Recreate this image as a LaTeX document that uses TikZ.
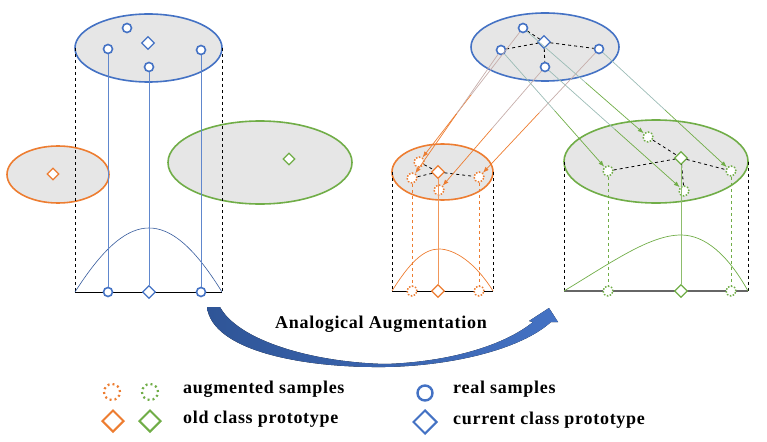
\documentclass[tikz,border=0pt]{standalone}
\usepackage{fontspec}
\setmainfont{Liberation Serif}
\newfontfamily\lblfont[LetterSpace=4]{Liberation Serif}
\usepackage{xcolor}
\usetikzlibrary{arrows.meta}
\usetikzlibrary{shapes.geometric}
\usetikzlibrary{calc}
\definecolor{myblue}{RGB}{68,114,196}
\definecolor{mydarkblue}{RGB}{47,85,151}
\definecolor{myorange}{RGB}{237,125,49}
\definecolor{mygreen}{RGB}{112,173,71}
\definecolor{mygray}{RGB}{230,230,230}

\begin{document}
\begin{tikzpicture}[x=1pt,y=-1pt,
real/.style={circle,draw=myblue,fill=white,line width=1.6pt,minimum size=9pt,inner sep=0pt},
proto/.style={diamond,draw=#1,fill=white,line width=1.2pt,minimum size=13pt,inner sep=0pt},
aug/.style={circle,draw=#1,fill=white,line width=1.5pt,dash pattern=on 1.5pt off 1.6pt,minimum size=10pt,inner sep=0pt},
cloud/.style={ellipse,draw=#1,fill=mygray,line width=1.6pt,inner sep=0pt,outer sep=0pt},
side/.style={dashed,line width=0.8pt},
link/.style={dashed,line width=0.8pt},
tailo/.style={line width=0.7pt,myblue!45!myorange!60!white},
taig/.style={line width=0.7pt,myblue!50!mygreen!60!white},
heado/.style={line width=0.7pt,myorange,-{Latex[length=6pt,width=4.5pt]}},
headg/.style={line width=0.7pt,mygreen,-{Latex[length=6pt,width=4.5pt]}},
lbl/.style={anchor=west,inner sep=0pt,font=\lblfont\bfseries\fontsize{18}{20}\selectfont},
]
\useasboundingbox (0,0) rectangle (767,441);

%left panel: clouds
\node[cloud=myblue,minimum width=147pt,minimum height=68pt] (Lcur) at (148.5,48) {};
\node[cloud=myorange,minimum width=102pt,minimum height=57pt] (Lold) at (58,174.5) {};
\node[cloud=mygreen,minimum width=184pt,minimum height=83pt] (Lnew) at (260,162.5) {};

%left panel: frame and curve
\coordinate (Lb0) at (Lcur.west |- 0,292);
\coordinate (Lb5) at (Lcur.east |- 0,292);
\draw[side] (Lcur.west) -- (Lb0);
\draw[side] (Lcur.east) -- (Lb5);
\draw[line width=1pt] (Lb0) -- (Lb5);
\draw[myblue!80!black,line width=0.6pt] (Lb0) .. controls (105,245) and (128,228) .. (149,228) .. controls (170,228) and (193,245) .. (Lb5);

%left panel: samples
\node[real] (Lr1) at (127,28) {};
\node[real] (Lr2) at (108,49) {};
\node[real] (Lr3) at (149,67) {};
\node[real] (Lr4) at (201,50) {};
\node[proto=myblue] (Lp) at (148,43) {};
\node[proto=myorange,minimum size=12pt] (Lpo) at (53,174) {};
\node[proto=mygreen,minimum size=12pt] (Lpg) at (289,159) {};
\node[real] (Lb2) at (108,292) {};
\node[proto=myblue] (Lbp) at (149,292) {};
\node[real] (Lb4) at (201,292) {};
\draw[myblue!85,line width=0.9pt] (Lr2) -- (Lb2);
\draw[myblue!85,line width=0.9pt] (Lr3) -- (Lbp);
\draw[myblue!85,line width=0.9pt] (Lr4) -- (Lb4);

%right panel: clouds
\node[cloud=myblue,minimum width=148pt,minimum height=68pt] (Rcur) at (545,47) {};
\node[cloud=myorange,minimum width=101pt,minimum height=56pt] (Rold) at (442.5,172) {};
\node[cloud=mygreen,minimum width=184pt,minimum height=83pt] (Rnew) at (656,161.5) {};

%right panel: frames and curves
\coordinate (Ob0) at (Rold.west |- 0,291);
\coordinate (Ob5) at (Rold.east |- 0,291);
\coordinate (Gb0) at (Rnew.west |- 0,291);
\coordinate (Gb5) at (Rnew.east |- 0,291);
\draw[side] (Rold.west) -- (Ob0);
\draw[side] (Rold.east) -- (Ob5);
\draw[side] (Rnew.west) -- (Gb0);
\draw[side] (Rnew.east) -- (Gb5);
\draw[line width=1pt] (Ob0) -- (Ob5);
\draw[line width=1.3pt,black!60] (Gb0) -- (Gb5);
\draw[myorange,line width=0.7pt] (Ob0) .. controls (410,262) and (424,249) .. (439,249) .. controls (454,249) and (475,262) .. (Ob5);
\draw[mygreen,line width=0.7pt] (Gb0) .. controls (612,262) and (650,235) .. (681,235) .. controls (705,235) and (728,255) .. (Gb5);

%right panel: samples
\node[real] (Rr1) at (523,28) {};
\node[real] (Rr2) at (501,50) {};
\node[real] (Rr3) at (545,67) {};
\node[real] (Rr4) at (599,49) {};
\node[proto=myblue] (Rp) at (544,42) {};
\node[aug=myorange] (Oa1) at (419,162) {};
\node[aug=myorange] (Oa2) at (412,178) {};
\node[aug=myorange] (Oa3) at (439,190) {};
\node[aug=myorange] (Oa4) at (479,177) {};
\node[proto=myorange] (Op) at (438,172) {};
\node[aug=mygreen] (Ga1) at (648,137) {};
\node[aug=mygreen] (Ga2) at (608,171) {};
\node[aug=mygreen] (Ga3) at (684,191) {};
\node[aug=mygreen] (Ga4) at (731,171) {};
\node[proto=mygreen] (Gp) at (681,158) {};
\node[aug=myorange] (Ob2) at (412,291) {};
\node[proto=myorange] (Obp) at (438,291) {};
\node[aug=myorange] (Ob4) at (479,291) {};
\node[aug=mygreen] (Gb2) at (608,291) {};
\node[proto=mygreen] (Gbp) at (681,291) {};
\node[aug=mygreen] (Gb4) at (731,291) {};

%prototype links
\draw[link] (Rr1) -- (Rp);
\draw[link] (Rr2) -- (Rp);
\draw[link] (Rp) -- (Rr4);
\draw[link] (Rp) -- (Rr3);
\draw[link] (Oa1) -- (Op);
\draw[link] (Oa2) -- (Op);
\draw[link] (Op) -- (Oa4);
\draw[link] (Ga1) -- (Gp);
\draw[link] (Ga2) -- (Gp);
\draw[link] (Gp) -- (Ga4);
\draw[link] (Gp) -- (Ga3);

%projections
\draw[myorange,dashed,line width=0.8pt] (Oa2) -- (Ob2);
\draw[myorange,dashed,line width=0.8pt] (Oa4) -- (Ob4);
\draw[myorange!80,line width=1pt] (Op) -- (Obp);
\draw[mygreen,dashed,line width=0.8pt] (Ga2) -- (Gb2);
\draw[mygreen,dashed,line width=0.8pt] (Ga4) -- (Gb4);
\draw[mygreen!80,line width=1pt] (Gp) -- (Gbp);

%analogical shifts
\draw[tailo] (Rr1) -- ($(Rr1)!0.5!(Oa1)$); \draw[heado] ($(Rr1)!0.5!(Oa1)$) -- (Oa1);
\draw[tailo] (Rr2) -- ($(Rr2)!0.5!(Oa2)$); \draw[heado] ($(Rr2)!0.5!(Oa2)$) -- (Oa2);
\draw[tailo] (Rr3) -- ($(Rr3)!0.5!(Oa3)$); \draw[heado] ($(Rr3)!0.5!(Oa3)$) -- (Oa3);
\draw[tailo] (Rr4) -- ($(Rr4)!0.5!(Oa4)$); \draw[heado] ($(Rr4)!0.5!(Oa4)$) -- (Oa4);
\draw[taig] (Rr1) -- ($(Rr1)!0.5!(Ga1)$); \draw[headg] ($(Rr1)!0.5!(Ga1)$) -- (Ga1);
\draw[taig] (Rr2) -- ($(Rr2)!0.5!(Ga2)$); \draw[headg] ($(Rr2)!0.5!(Ga2)$) -- (Ga2);
\draw[taig] (Rr3) -- ($(Rr3)!0.5!(Ga3)$); \draw[headg] ($(Rr3)!0.5!(Ga3)$) -- (Ga3);
\draw[taig] (Rr4) -- ($(Rr4)!0.5!(Ga4)$); \draw[headg] ($(Rr4)!0.5!(Ga4)$) -- (Ga4);

%big arrow
\fill[left color=mydarkblue,right color=myblue] (207,307) .. controls (212,350) and (300,368) .. (385,367) .. controls (450,366) and (520,350) .. (551,322) -- (558,322) -- (549,308) -- (529,321) -- (533,322) .. controls (505,345) and (450,362) .. (385,364) .. controls (310,362) and (238,340) .. (220,307) -- cycle;
\node[lbl,anchor=center] (aa) at (381,324) {Analogical Augmentation};

%legend
\node[aug=myorange,minimum size=16pt,line width=2.2pt,dash pattern=on 2pt off 3pt] (kao) at (112,392) {};
\node[aug=mygreen,minimum size=16pt,line width=2.2pt,dash pattern=on 2pt off 3pt] (kag) at (150,392) {};
\node[proto=myorange,minimum size=22pt,line width=2pt] (kpo) at (113,421) {};
\node[proto=mygreen,minimum size=22pt,line width=2pt] (kpg) at (150,421) {};
\node[real,minimum size=15pt,line width=2.4pt] (kr) at (425,393) {};
\node[proto=myblue,minimum size=24pt,line width=2pt] (kpc) at (425,422) {};
\node[lbl] (tao) at (183,389) {augmented samples};
\node[lbl] (tpo) at (183,419) {old class prototype};
\node[lbl] (tr) at (453,389) {real samples};
\node[lbl] (tpc) at (453,420) {current class prototype};
\end{tikzpicture}
\end{document}
